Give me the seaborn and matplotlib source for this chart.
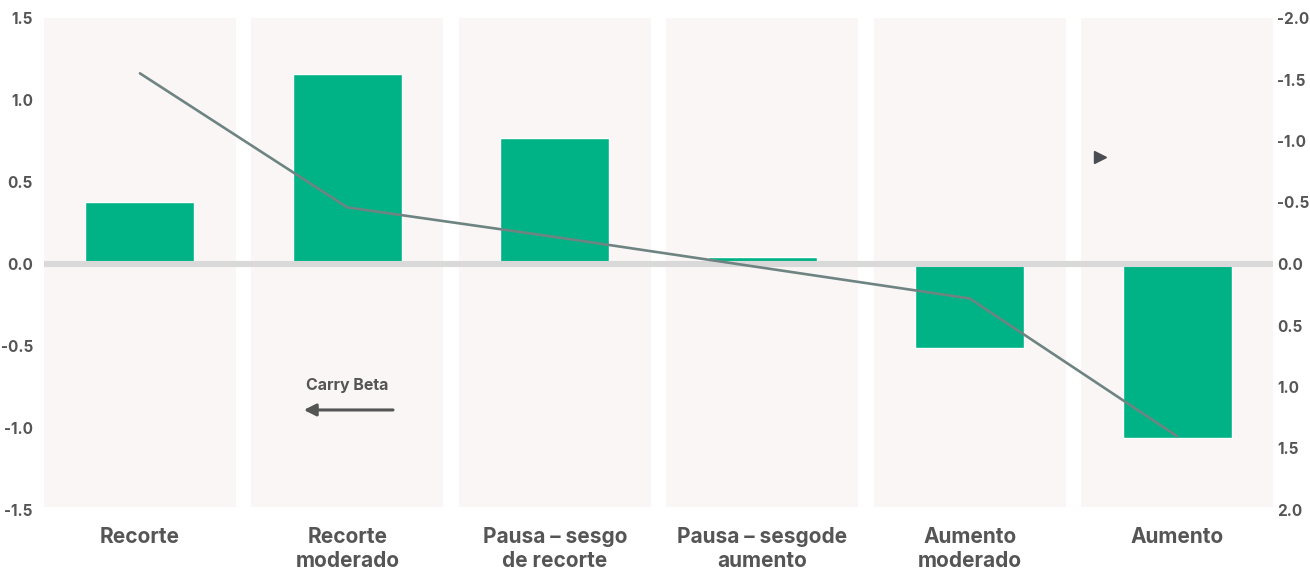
import matplotlib
matplotlib.use("Agg")
import matplotlib.pyplot as plt
import seaborn as sns
import pandas as pd

categories = ["Recorte", "Recorte\nmoderado", "Pausa – sesgo\nde recorte",
              "Pausa – sesgode\naumento", "Aumento\nmoderado", "Aumento"]
bar_values = [0.38, 1.16, 0.77, 0.04, -0.51, -1.06]
line_values = [-1.55, -0.46, -0.22, 0.03, 0.28, 1.40]
left_ticks = [-1.5, -1.0, -0.5, 0.0, 0.5, 1.0, 1.5]
right_ticks = [-2.0, -1.5, -1.0, -0.5, 0.0, 0.5, 1.0, 1.5, 2.0]
annotation_text = "Carry Beta"

sns.set_theme(style="white")
plt.rcParams['font.family'] = ['Inter', 'DejaVu Sans']

GREEN = "#00B386"
LINE = "#6E8482"
PANEL = "#FAF6F5"
TEXT = "#555555"

df = pd.DataFrame({"cat": categories, "bar": bar_values, "line": line_values})

fig = plt.figure(figsize=(13.1, 5.68), dpi=100)
ax = fig.add_axes([44 / 1310, 1 - 510 / 568, (1273 - 44) / 1310, 492 / 568])

half = 0.4625
for i in range(len(categories)):
    ax.axvspan(i - half, i + half, ymin=0.006, ymax=1.0, color=PANEL, zorder=0, lw=0)

sns.barplot(data=df, x="cat", y="bar", color=GREEN, width=0.525, ax=ax,
            saturation=1, zorder=2)
ax.axhline(0, color="#D9D9D9", lw=4.4, zorder=3)

ax.set_xlim(-half, len(categories) - 1 + half)
ax.set_ylim(-1.5, 1.5)
ax.set_yticks(left_ticks)
ax.set_yticklabels([f"{v:.1f}" for v in left_ticks])
ax.set_xlabel("")
ax.set_ylabel("")
ax.tick_params(axis="y", length=0, pad=8, labelsize=11, labelcolor=TEXT)
ax.tick_params(axis="x", length=0, pad=12, labelsize=15, labelcolor=TEXT)
for lab in ax.get_xticklabels():
    lab.set_fontweight("bold")
    lab.set_linespacing(1.3)
    lab.set_verticalalignment("top")
for lab in ax.get_yticklabels():
    lab.set_fontweight("bold")
for s in ax.spines.values():
    s.set_visible(False)

ax2 = ax.twinx()
sns.lineplot(x=list(range(len(categories))), y=df["line"], color=LINE, lw=1.9,
             ax=ax2, sort=False, zorder=4)
ax2.set_ylim(2.0, -2.0)
ax2.set_yticks(right_ticks)
ax2.set_yticklabels([f"{v:.1f}" for v in right_ticks])
ax2.set_ylabel("")
ax2.tick_params(axis="y", length=0, pad=3, labelsize=11, labelcolor=TEXT)
for lab in ax2.get_yticklabels():
    lab.set_fontweight("bold")
for s in ax2.spines.values():
    s.set_visible(False)
ax2.grid(False)
ax.grid(False)

# annotation
ax.text(1.0, -0.74, annotation_text, ha="center", va="center", fontsize=11.5,
        fontweight="bold", color=TEXT, zorder=5)
ax.annotate("", xy=(0.79, -0.89), xytext=(1.22, -0.89),
            arrowprops=dict(arrowstyle="-|>,head_length=0.6,head_width=0.3",
                            color=TEXT, lw=2.2, shrinkA=0, shrinkB=0), zorder=5)
ax.plot([4.63], [0.65], marker=">", markersize=9, color="#4A4D52", zorder=5)

fig.savefig("out.png", dpi=100)
